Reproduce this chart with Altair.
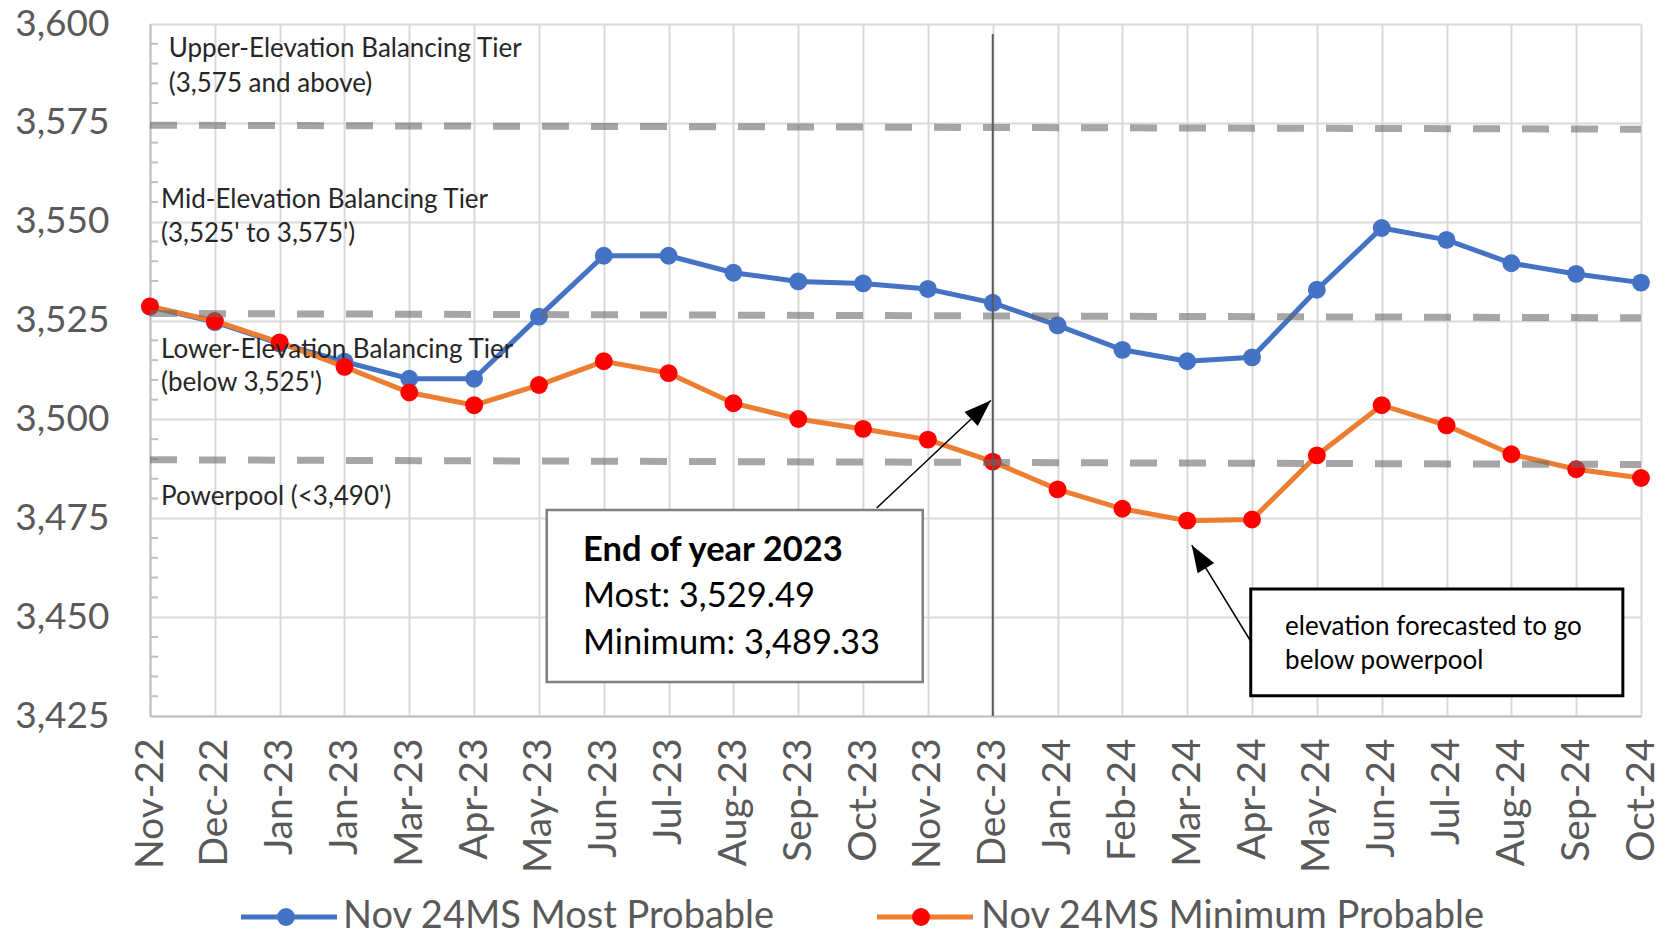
import json, math
import altair as alt
import pandas as pd

months = ["Nov-22","Dec-22","Jan-23","Jan-23","Mar-23","Apr-23","May-23","Jun-23","Jul-23",
          "Aug-23","Sep-23","Oct-23","Nov-23","Dec-23","Jan-24","Feb-24","Mar-24","Apr-24",
          "May-24","Jun-24","Jul-24","Aug-24","Sep-24","Oct-24"]
most = [3528.5, 3524.6, 3519.2, 3514.6, 3510.3, 3510.3, 3526.0, 3541.4, 3541.4, 3537.1, 3534.9, 3534.4,
        3533.0, 3529.49, 3523.8, 3517.6, 3514.7, 3515.7, 3532.8, 3548.4, 3545.4, 3539.5, 3536.8, 3534.6]
minimum = [3528.6, 3524.9, 3519.5, 3513.3, 3506.8, 3503.6, 3508.7, 3514.7, 3511.7, 3504.1, 3500.1, 3497.6,
           3494.9, 3489.33, 3482.3, 3477.4, 3474.4, 3474.7, 3490.9, 3503.6, 3498.5, 3491.2, 3487.4, 3485.2]

tier_names = ["Upper", "Mid", "Powerpool"]
tier_start = [3574.4, 3526.8, 3489.8]
tier_end = [3573.4, 3525.7, 3488.6]

y_ticks = list(range(3425, 3601, 25))
minor_ticks = [v for v in range(3430, 3600, 5) if v % 25 != 0]

notes_text = ["Upper-Elevation Balancing Tier", "(3,575 and above)",
              "Mid-Elevation Balancing Tier", "(3,525' to 3,575')",
              "Lower-Elevation Balancing Tier", "(below 3,525')",
              "Powerpool (<3,490')"]
notes_x = [0.29, 0.29, 0.17, 0.17, 0.17, 0.17, 0.17]
notes_y = [3593.6, 3584.9, 3555.4, 3546.8, 3517.6, 3509.2, 3480.3]

box1_lines = ["End of year 2023", "Most: 3,529.49", "Minimum: 3,489.33"]
box1_y = [3466.8, 3455.2, 3443.3]
box1_bounds = [6.12, 11.92, 3433.6, 3477.1]
box2_lines = ["elevation forecasted to go", "below powerpool"]
box2_y = [3447.6, 3439.0]
box2_bounds = [16.98, 22.72, 3430.1, 3457.1]

arrows_tail = [(11.21, 3477.6), (16.98, 3443.9)]
arrows_tip = [(12.97, 3504.8), (16.07, 3468.2)]

W, H = 1491, 692
YMIN, YMAX = 3425, 3600
px_x = W / 23.0
px_y = H / float(YMAX - YMIN)

FONT = "Lato"

xs = alt.Scale(domain=[0, 23], nice=False, zero=False)
ys = alt.Scale(domain=[YMIN, YMAX], nice=False, zero=False)


def X(f):
    return alt.X(f, scale=xs)


def Y(f):
    return alt.Y(f, scale=ys)


label_expr = json.dumps(months) + "[datum.value]"

series = pd.DataFrame({
    "idx": list(range(24)) * 2,
    "value": most + minimum,
    "series": ["Most"] * 24 + ["Minimum"] * 24,
})
df_most = series[series.series == "Most"]
df_min = series[series.series == "Minimum"]

base_x = alt.X("idx:Q", scale=xs, axis=alt.Axis(
    values=list(range(24)), labelExpr=label_expr, labelAngle=270, labelFontSize=39,
    labelFont=FONT, labelColor="#595959", labelPadding=22, ticks=False,
    domainColor="#bfbfbf", domainWidth=2, gridColor="#d9d9d9", gridWidth=2, title=None))
base_y = alt.Y("value:Q", scale=ys, axis=alt.Axis(
    values=y_ticks, labelExpr="format(datum.value, ',')", labelFontSize=37, labelFont=FONT,
    labelColor="#595959", labelPadding=41, ticks=False, domainColor="#bfbfbf", domainWidth=2,
    gridColor="#d9d9d9", gridWidth=2, title=None))

axes_layer = alt.Chart(series).mark_point(opacity=0).encode(x=base_x, y=base_y)

minor_df = pd.DataFrame({"v": minor_ticks})
minor = alt.Chart(minor_df).mark_rule(color="#bfbfbf", strokeWidth=2).encode(
    y=Y("v:Q"), x=alt.value(0), x2=alt.value(8))

MS = 320
blue_line = alt.Chart(df_most).mark_line(color="#4472C4", strokeWidth=5).encode(
    x=X("idx:Q"), y=Y("value:Q"))
blue_pts = alt.Chart(df_most).mark_circle(color="#4472C4", size=MS, opacity=1).encode(
    x=X("idx:Q"), y=Y("value:Q"))
org_line = alt.Chart(df_min).mark_line(color="#ED7D31", strokeWidth=5).encode(
    x=X("idx:Q"), y=Y("value:Q"))
red_pts = alt.Chart(df_min).mark_circle(color="#FF0000", size=MS, opacity=1).encode(
    x=X("idx:Q"), y=Y("value:Q"))

tier_df = pd.DataFrame({
    "tier": tier_names * 2,
    "idx": [0] * 3 + [23] * 3,
    "v": tier_start + tier_end,
})
tiers = alt.Chart(tier_df).mark_line(color="#6a6a6a", opacity=0.6, strokeWidth=7,
                                     strokeDash=[27, 22]).encode(
    x=X("idx:Q"), y=Y("v:Q"), detail="tier:N")

vline_df = pd.DataFrame({"idx": [13], "y1": [3597.5], "y2": [YMIN]})
vline = alt.Chart(vline_df).mark_rule(color="#595959", strokeWidth=2).encode(
    x=X("idx:Q"), y=Y("y1:Q"), y2="y2:Q")

notes_df = pd.DataFrame({"t": notes_text, "x": notes_x, "y": notes_y})
notes = alt.Chart(notes_df).mark_text(align="left", baseline="middle", fontSize=26,
                                      font=FONT, color="#262626").encode(
    x=X("x:Q"), y=Y("y:Q"), text="t:N")

boxes_df = pd.DataFrame({
    "x1": [box1_bounds[0], box2_bounds[0]], "x2": [box1_bounds[1], box2_bounds[1]],
    "y1": [box1_bounds[2], box2_bounds[2]], "y2": [box1_bounds[3], box2_bounds[3]],
})
box1 = alt.Chart(boxes_df.iloc[[0]]).mark_rect(fill="white", stroke="#7f7f7f", strokeWidth=2.5).encode(
    x=X("x1:Q"), x2="x2:Q", y=Y("y1:Q"), y2="y2:Q")
box2 = alt.Chart(boxes_df.iloc[[1]]).mark_rect(fill="white", stroke="#000000", strokeWidth=3).encode(
    x=X("x1:Q"), x2="x2:Q", y=Y("y1:Q"), y2="y2:Q")

b1_df = pd.DataFrame({"t": box1_lines, "x": [6.68] * 3, "y": box1_y})
b1_bold = alt.Chart(b1_df.iloc[[0]]).mark_text(align="left", baseline="middle", fontSize=34.5,
                                               font=FONT, fontWeight="bold", color="#000000").encode(
    x=X("x:Q"), y=Y("y:Q"), text="t:N")
b1_rest = alt.Chart(b1_df.iloc[1:]).mark_text(align="left", baseline="middle", fontSize=34.5,
                                              font=FONT, color="#000000").encode(
    x=X("x:Q"), y=Y("y:Q"), text="t:N")
b2_df = pd.DataFrame({"t": box2_lines, "x": [17.51] * 2, "y": box2_y})
b2_text = alt.Chart(b2_df).mark_text(align="left", baseline="middle", fontSize=26,
                                     font=FONT, color="#000000").encode(
    x=X("x:Q"), y=Y("y:Q"), text="t:N")

arrow_layers = []
for (tx, ty), (hx, hy) in zip(arrows_tail, arrows_tip):
    dxp = (hx - tx) * px_x
    dyp = -(hy - ty) * px_y
    ang = math.degrees(math.atan2(dxp, -dyp)) % 360
    adf = pd.DataFrame({"x1": [tx], "y1": [ty], "x2": [hx], "y2": [hy]})
    arrow_layers.append(alt.Chart(adf).mark_rule(color="black", strokeWidth=1.5).encode(
        x=X("x1:Q"), x2="x2:Q", y=Y("y1:Q"), y2="y2:Q"))
    arrow_layers.append(alt.Chart(adf).mark_point(
        shape="M0,0L-0.36,1L0.36,1Z", filled=True, size=2916, angle=ang,
        color="black", opacity=1, strokeWidth=0).encode(
        x=X("x2:Q"), y=Y("y2:Q")))

leg_df = pd.DataFrame({"k": [0]})
LY = 893
legend_layers = [
    alt.Chart(leg_df).mark_rule(color="#4472C4", strokeWidth=5).encode(
        x=alt.value(91), x2=alt.value(187), y=alt.value(LY)),
    alt.Chart(leg_df).mark_circle(color="#4472C4", size=MS, opacity=1).encode(
        x=alt.value(136), y=alt.value(LY)),
    alt.Chart(leg_df).mark_text(align="left", baseline="middle", fontSize=38, font=FONT,
                                color="#595959", text="Nov 24MS Most Probable").encode(
        x=alt.value(193), y=alt.value(LY)),
    alt.Chart(leg_df).mark_rule(color="#ED7D31", strokeWidth=5).encode(
        x=alt.value(727), x2=alt.value(823), y=alt.value(LY)),
    alt.Chart(leg_df).mark_circle(color="#FF0000", size=MS, opacity=1).encode(
        x=alt.value(771), y=alt.value(LY)),
    alt.Chart(leg_df).mark_text(align="left", baseline="middle", fontSize=38, font=FONT,
                                color="#595959", text="Nov 24MS Minimum Probable").encode(
        x=alt.value(831), y=alt.value(LY)),
]

chart = alt.layer(
    axes_layer, minor, blue_line, blue_pts, org_line, red_pts, tiers, vline,
    box1, box2, *arrow_layers, notes, b1_bold, b1_rest, b2_text, *legend_layers
).properties(
    width=W, height=H,
    autosize=alt.AutoSizeParams(type="none"),
    padding={"left": 150, "top": 24, "right": 35, "bottom": 222},
).configure_view(stroke=None).configure(background="white")

chart.save("out.html", embed_options={"renderer": "svg", "actions": False})
